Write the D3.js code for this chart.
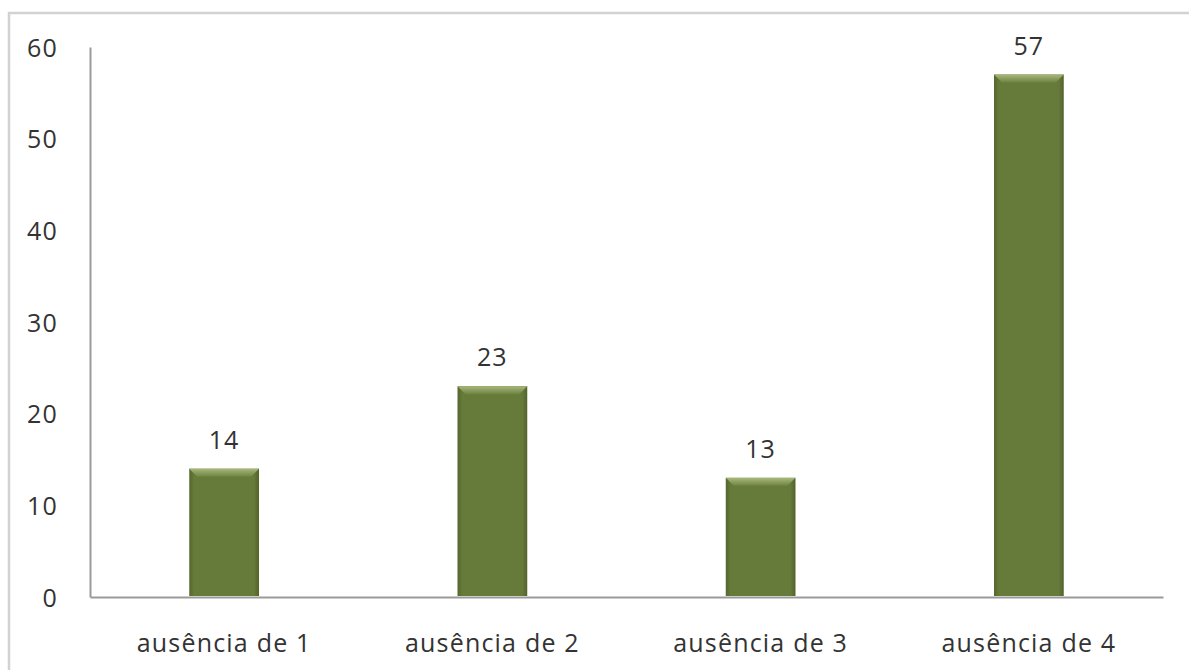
<!DOCTYPE html>
<html>
<head>
<meta charset="utf-8">
<script src="https://cdn.jsdelivr.net/npm/d3@7"></script>
<style>
  html, body { margin: 0; padding: 0; background: #fff; }
  svg { display: block; }
  text { font-family: "Open Sans", "Noto Sans", sans-serif; fill: #333; }
</style>
</head>
<body>
<svg id="chart" width="1189" height="670"></svg>
<script>
// Absence counts by category
const categories = ["ausência de 1", "ausência de 2", "ausência de 3", "ausência de 4"];
const values = [14, 23, 13, 57];
const yTicks = [0, 10, 20, 30, 40, 50, 60];

const W = 1189, H = 670;
const margin = { left: 90, right: 26, top: 47, bottom: 73 };
const fontSize = 25;
const spacing = "1.2px";
const svg = d3.select("#chart");

// chart area frame (left and top edges visible)
svg.append("rect")
  .attr("x", 9).attr("y", 13)
  .attr("width", W + 10).attr("height", H + 10)
  .attr("fill", "none").attr("stroke", "#d2d2d2").attr("stroke-width", 2.5);

const x = d3.scaleBand()
  .domain(categories)
  .range([margin.left, W - margin.right])
  .paddingInner(0.74).paddingOuter(0.37);

const y = d3.scaleLinear()
  .domain([0, 60])
  .range([H - margin.bottom, margin.top]);

// gradients for bar shading
const defs = svg.append("defs");
const sideGrad = defs.append("linearGradient").attr("id", "barSide")
  .attr("x1", 0).attr("x2", 1).attr("y1", 0).attr("y2", 0);
sideGrad.append("stop").attr("offset", "0%").attr("stop-color", "#55672c");
sideGrad.append("stop").attr("offset", "7%").attr("stop-color", "#667a3a");
sideGrad.append("stop").attr("offset", "93%").attr("stop-color", "#667a3a");
sideGrad.append("stop").attr("offset", "100%").attr("stop-color", "#52632a");

const topGrad = defs.append("linearGradient").attr("id", "barTop")
  .attr("x1", 0).attr("x2", 0).attr("y1", 0).attr("y2", 1);
topGrad.append("stop").attr("offset", "0%").attr("stop-color", "#a8b87c");
topGrad.append("stop").attr("offset", "100%").attr("stop-color", "#6f8341");

// axes
const yAxis = d3.axisLeft(y).tickValues(yTicks).tickSize(0).tickPadding(32);
const gy = svg.append("g").attr("transform", `translate(${margin.left},0)`).call(yAxis);
gy.select(".domain").attr("stroke", "#9a9a9a").attr("stroke-width", 2);
gy.selectAll("text").attr("font-size", fontSize).attr("dy", "0.36em")
  .attr("letter-spacing", spacing).style("fill", "#333");

const xAxis = d3.axisBottom(x).tickSize(0).tickPadding(37);
const gx = svg.append("g").attr("transform", `translate(0,${y(0)})`).call(xAxis);
gx.select(".domain").attr("stroke", "#9a9a9a").attr("stroke-width", 2);
gx.selectAll("text").attr("font-size", fontSize)
  .attr("letter-spacing", spacing).style("fill", "#333");

// bars
const bars = svg.append("g").selectAll("g.bar")
  .data(values.map((v, i) => ({ c: categories[i], v })))
  .join("g").attr("class", "bar");

bars.append("rect")
  .attr("x", d => x(d.c))
  .attr("y", d => y(d.v))
  .attr("width", x.bandwidth())
  .attr("height", d => y(0) - y(d.v) - 1)
  .attr("fill", "url(#barSide)");

// bevelled top edge
const bev = 8;
bars.append("path")
  .attr("d", d => {
    const x0 = x(d.c), x1 = x0 + x.bandwidth(), t = y(d.v);
    return `M${x0},${t} L${x1},${t} L${x1 - bev},${t + bev} L${x0 + bev},${t + bev} Z`;
  })
  .attr("fill", "url(#barTop)");

// value labels
bars.append("text")
  .attr("x", d => x(d.c) + x.bandwidth() / 2)
  .attr("y", d => y(d.v) - 20)
  .attr("text-anchor", "middle")
  .attr("font-size", fontSize)
  .attr("letter-spacing", spacing)
  .text(d => d.v);
</script>
</body>
</html>
